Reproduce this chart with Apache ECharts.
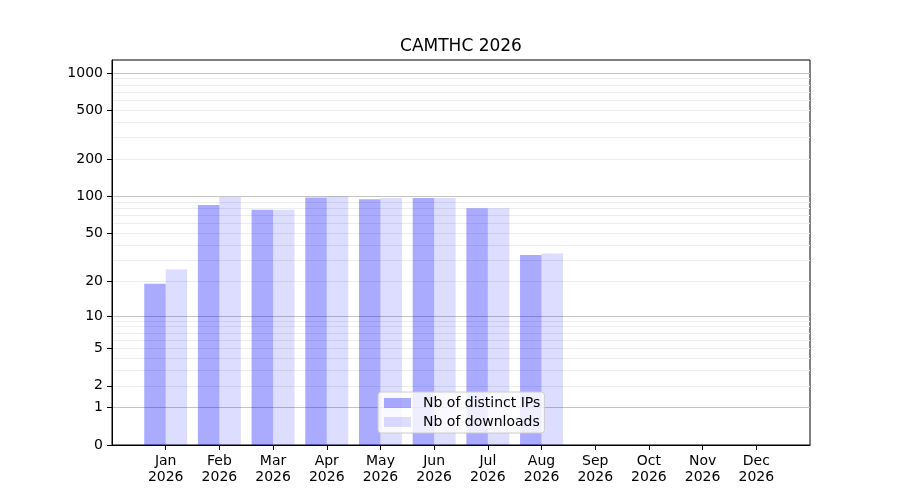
<!DOCTYPE html>
<html>
<head>
<meta charset="utf-8">
<title>CAMTHC 2026</title>
<script src="https://cdn.jsdelivr.net/npm/echarts@6/dist/echarts.min.js"></script>
<style>
    html, body { margin: 0; padding: 0; background: #fff; }
    #main { width: 900px; height: 500px; }
</style>
</head>
<body>
<div id="main"></div>
<script>
const months = ['Jan', 'Feb', 'Mar', 'Apr', 'May', 'Jun', 'Jul', 'Aug', 'Sep', 'Oct', 'Nov', 'Dec']
const year = '2026'
const distinctIps = [19, 85, 78, 98, 95, 97, 80, 33, 0, 0, 0, 0]
const downloads = [25, 99, 78, 100, 97, 97, 80, 34, 0, 0, 0, 0]
const yTicks = [0, 1, 2, 5, 10, 20, 50, 100, 200, 500, 1000]
const majorGrid = [1, 10, 100, 1000]
const minorGrid = [2, 3, 4, 5, 6, 7, 8, 9, 20, 30, 40, 50, 60, 70, 80, 90, 200, 300, 400, 500, 600, 700, 800, 900]
const yTop = 1272

const font = 'DejaVu Sans'

// y axis is log10(v + 1), so 0 stays on the axis
const toAxis = v => Math.log10(v + 1)
const fromAxis = t => Math.round(Math.pow(10, t) - 1)

// one empty slot on each side, like the reference margins
const categories = [''].concat(months.map(m => m + '\n' + year), [''])
const pad = arr => [null].concat(arr.map(toAxis), [null])

// hidden axes only used to draw the grid lines
const gridAxis = (values, color) => ({
    type: 'value',
    min: 0,
    max: toAxis(yTop),
    position: 'left',
    axisLine: { show: false },
    axisTick: { show: false, customValues: values.map(toAxis) },
    axisLabel: { show: false, customValues: values.map(toAxis) },
    splitLine: { show: true, showMinLine: true, showMaxLine: true, lineStyle: { color: color, width: 1 } }
})

const chart = echarts.init(document.getElementById('main'))

chart.setOption({
    animation: false,
    title: {
        text: 'CAMTHC 2026',
        left: 461,
        top: 38,
        padding: 0,
        textAlign: 'center',
        textStyle: { fontFamily: font, fontSize: 17, fontWeight: 'normal', color: '#000' }
    },
    grid: {
        left: 112, right: 90, top: 60, bottom: 55,
        show: true, borderColor: '#000', borderWidth: 1
    },
    legend: {
        orient: 'vertical',
        left: 378,
        top: 392,
        itemWidth: 27,
        itemHeight: 10,
        itemGap: 5,
        padding: [4, 4, 4, 6],
        backgroundColor: 'rgba(255,255,255,0.8)',
        borderColor: '#cccccc',
        borderWidth: 1,
        borderRadius: 3,
        textStyle: { fontFamily: font, fontSize: 14, color: '#000', padding: [0, 0, 0, 7] },
        data: [
            { name: 'Nb of distinct IPs', icon: 'rect' },
            { name: 'Nb of downloads', icon: 'rect' }
        ]
    },
    xAxis: {
        type: 'category',
        data: categories,
        boundaryGap: false,
        axisLine: { lineStyle: { color: '#000', width: 1 } },
        axisTick: {
            length: 5,
            interval: (i, v) => v !== '',
            lineStyle: { color: '#000' }
        },
        axisLabel: {
            interval: 0,
            margin: 8,
            fontFamily: font,
            fontSize: 14,
            lineHeight: 16,
            color: '#000'
        },
        splitLine: { show: false }
    },
    yAxis: [
        {
            type: 'value',
            min: 0,
            max: toAxis(yTop),
            position: 'left',
            axisLine: { show: true, lineStyle: { color: '#000', width: 1 } },
            axisTick: {
                show: true,
                length: 5,
                customValues: yTicks.map(toAxis),
                lineStyle: { color: '#000' }
            },
            axisLabel: {
                customValues: yTicks.map(toAxis),
                formatter: t => String(fromAxis(t)),
                margin: 9,
                fontFamily: font,
                fontSize: 14,
                color: '#000'
            },
            splitLine: { show: false }
        },
        gridAxis(minorGrid, '#ececec'),
        gridAxis(majorGrid, '#c4c4c4')
    ],
    series: [
        {
            name: 'Nb of distinct IPs',
            type: 'bar',
            data: pad(distinctIps),
            barWidth: '40%',
            barGap: '0%',
            z: 2,
            itemStyle: { color: 'rgba(0,0,255,0.333)' }
        },
        {
            name: 'Nb of downloads',
            type: 'bar',
            data: pad(downloads),
            barWidth: '40%',
            barGap: '0%',
            z: 2,
            itemStyle: { color: 'rgba(0,0,255,0.133)' }
        }
    ]
})
</script>
</body>
</html>
